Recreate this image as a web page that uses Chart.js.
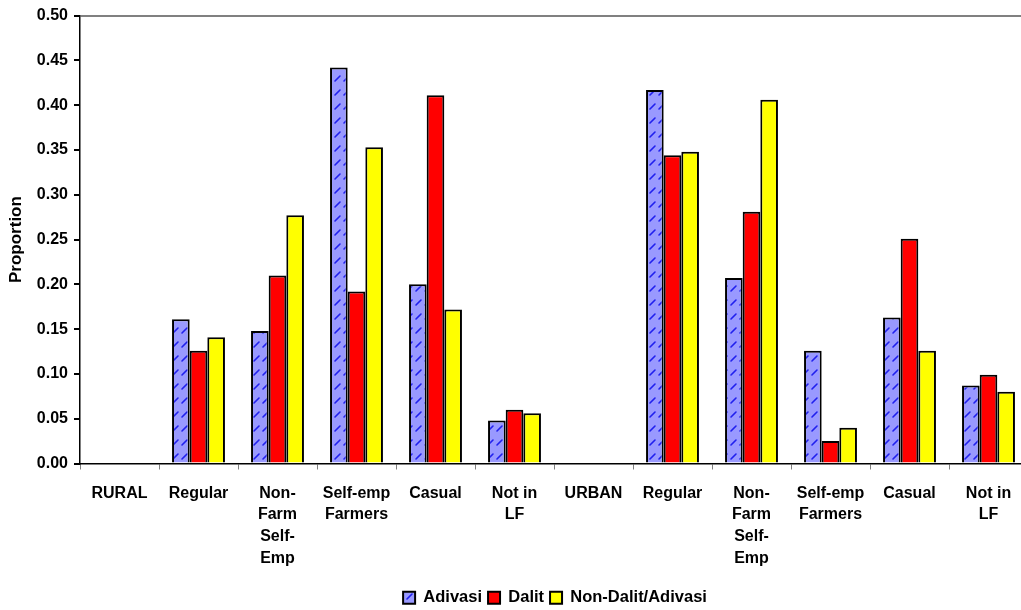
<!DOCTYPE html>
<html>
<head>
<meta charset="utf-8">
<script src="https://cdn.jsdelivr.net/npm/chart.js@4"></script>
<style>
  html, body { margin: 0; padding: 0; background: #fff; overflow: hidden; }
  #wrap { width: 1110px; height: 610px; }
</style>
</head>
<body>
<div id="wrap"><canvas id="chart"></canvas></div>
<script>
const categories = [
    ["RURAL"], ["Regular"], ["Non-", "Farm", "Self-", "Emp"], ["Self-emp", "Farmers"], ["Casual"], ["Not in", "LF"],
    ["URBAN"], ["Regular"], ["Non-", "Farm", "Self-", "Emp"], ["Self-emp", "Farmers"], ["Casual"], ["Not in", "LF"]
];
const adivasi = [null, 0.161, 0.148, 0.442, 0.200, 0.048, null, 0.417, 0.207, 0.126, 0.163, 0.087];
const dalit = [null, 0.126, 0.210, 0.192, 0.411, 0.060, null, 0.344, 0.281, 0.025, 0.251, 0.099];
const nonDalit = [null, 0.141, 0.277, 0.353, 0.172, 0.056, null, 0.348, 0.406, 0.040, 0.126, 0.080];
const yTicks = [0, 0.05, 0.10, 0.15, 0.20, 0.25, 0.30, 0.35, 0.40, 0.45, 0.50];

// hatched fill for the Adivasi bars
function makePattern() {
    const c = document.createElement('canvas');
    c.width = 9;
    c.height = 14;
    const p = c.getContext('2d');
    p.fillStyle = '#9999ff';
    p.fillRect(0, 0, 9, 14);
    p.strokeStyle = '#2020ee';
    p.lineWidth = 1.6;
    p.lineCap = 'round';
    p.beginPath();
    p.moveTo(2, 11);
    p.lineTo(7, 6);
    p.stroke();
    return p.createPattern(c, 'repeat');
}

// nudge the legend so it sits where the original one does
const legendShift = {
    id: 'legendShift',
    afterLayout(chart) {
        const lg = chart.legend;
        lg.left += 41;
        lg.right += 41;
        lg.top += 6;
        lg.bottom += 6;
    }
};

document.addEventListener("DOMContentLoaded", () => {
    const ctx = document.getElementById('chart');
    const hatch = makePattern();
    const fam = "'Liberation Sans', Arial, sans-serif";
    const font = { family: fam, size: 16, weight: 'bold', lineHeight: 1.35 };

    new Chart(ctx, {
        type: 'bar',
        data: {
            labels: categories,
            datasets: [
                { label: "Adivasi", data: adivasi, backgroundColor: hatch, borderColor: "#000", borderWidth: 2 },
                { label: "Dalit", data: dalit, backgroundColor: "#ff0000", borderColor: "#000", borderWidth: 2 },
                { label: "Non-Dalit/Adivasi", data: nonDalit, backgroundColor: "#ffff00", borderColor: "#000", borderWidth: 2 }
            ]
        },
        plugins: [legendShift],
        options: {
            responsive: true,
            maintainAspectRatio: false,
            animation: false,
            datasets: { bar: { categoryPercentage: 0.67, barPercentage: 1.0 } },
            layout: { padding: { left: 0, right: 82, top: 12, bottom: 0 } },
            plugins: {
                tooltip: { enabled: false },
                legend: {
                    position: 'bottom',
                    labels: {
                        color: '#000',
                        font: { family: fam, size: 16.5, weight: 'bold' },
                        boxWidth: 12,
                        boxHeight: 12,
                        padding: 6
                    }
                }
            },
            scales: {
                x: {
                    offset: true,
                    grid: {
                        offset: true,
                        drawOnChartArea: false,
                        tickLength: 6,
                        tickColor: '#808080'
                    },
                    border: { color: '#000', width: 1.5 },
                    ticks: { color: '#000', font: font, padding: 13, maxRotation: 0, autoSkip: false },
                    afterFit: (scale) => { scale.height = 114; }
                },
                y: {
                    min: 0,
                    max: 0.5,
                    afterBuildTicks: (scale) => { scale.ticks = yTicks.map(v => ({ value: v })); },
                    grid: {
                        color: (c) => (c.tick && c.tick.value === 0.5) ? '#808080' : 'transparent',
                        lineWidth: 2,
                        tickColor: '#000',
                        tickLength: 6
                    },
                    border: { color: '#000', width: 1.5 },
                    ticks: {
                        color: '#000',
                        font: { family: fam, size: 16, weight: 'bold' },
                        padding: 6,
                        callback: (v) => Number(v).toFixed(2)
                    },
                    title: {
                        display: true,
                        text: 'Proportion',
                        color: '#000',
                        font: { family: fam, size: 17, weight: 'bold' },
                        padding: { top: 6, bottom: 0 }
                    },
                    afterFit: (scale) => { scale.width = 80; }
                }
            }
        }
    });
});
</script>
</body>
</html>
